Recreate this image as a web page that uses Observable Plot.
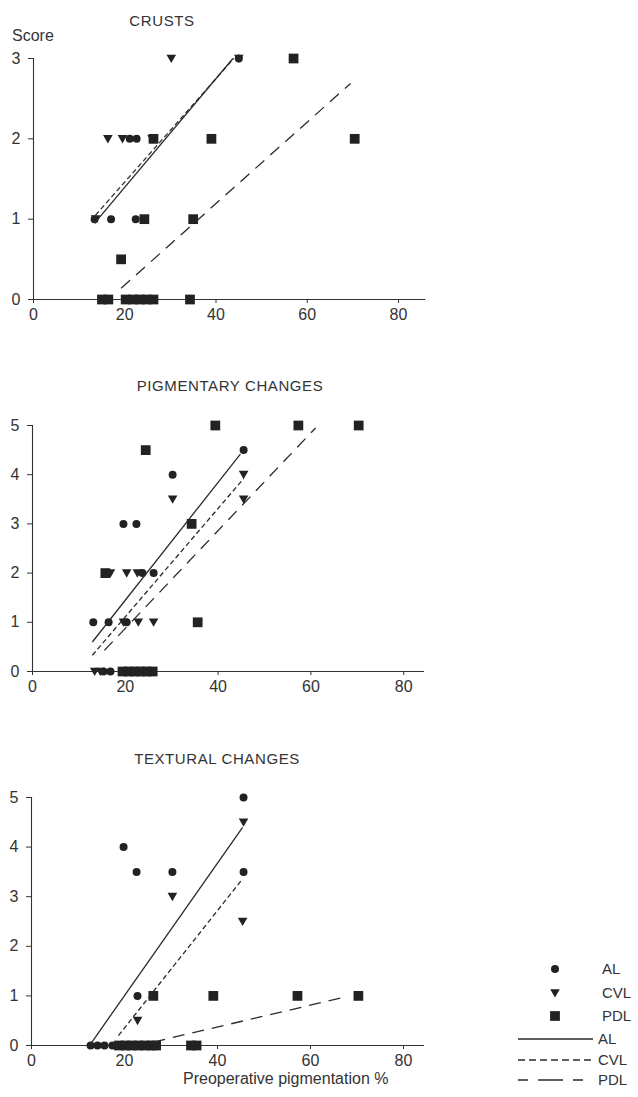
<!DOCTYPE html>
<html>
<head>
<meta charset="utf-8">
<script src="https://cdn.jsdelivr.net/npm/d3@7"></script>
<script src="https://cdn.jsdelivr.net/npm/@observablehq/plot@0.6"></script>
<style>
  html, body { margin: 0; padding: 0; background: #fff; }
  #page { position: relative; width: 638px; height: 1097px; overflow: hidden; background: #fff;
          font-family: "Liberation Sans", Arial, Helvetica, sans-serif; color: #333; }
  .abs { position: absolute; }
  .title { font-size: 15px; letter-spacing: 0.6px; white-space: nowrap; transform: translate(-50%, -50%); }
  .lab { font-size: 16px; white-space: nowrap; transform: translateY(-50%); }
</style>
</head>
<body>
<div id="page"></div>
<script>
// ---------- data ----------
const panelTitles = ["CRUSTS", "PIGMENTARY CHANGES", "TEXTURAL CHANGES"];
const xTicks = [0, 20, 40, 60, 80];
const yTicksCrusts = [0, 1, 2, 3];
const yTicksChanges = [0, 1, 2, 3, 4, 5];
const seriesNames = ["AL", "CVL", "PDL"];

// CRUSTS: [preoperative pigmentation %, score]
const crustsAL = [[13.4,1],[17.0,1],[22.4,1],[21.1,2],[22.6,2],[45,3],[15.5,0],[21,0]];
const crustsCVL = [[13.6,1],[16.3,2],[19.5,2],[26.0,2],[30.2,3],[45,3],[16.2,0],[20.5,0],[23.5,0]];
const crustsPDL = [[19.2,0.5],[24.3,1],[35.0,1],[26.3,2],[39.0,2],[70.4,2],[57.0,3],
                   [15.0,0],[16.4,0],[20.2,0],[21.8,0],[23.3,0],[24.8,0],[26.3,0],[34.3,0]];
const crustsFit = [
  {s: "AL",  x1: 13.4, y1: 0.95, x2: 43.7, y2: 3.0},
  {s: "CVL", x1: 13.6, y1: 1.05, x2: 43.9, y2: 3.0},
  {s: "PDL", x1: 19.2, y1: 0.14, x2: 69.5, y2: 2.69}
];

// PIGMENTARY CHANGES
const pigAL = [[13.1,1],[16.4,1],[20.3,1],[23.7,2],[26.1,2],[19.6,3],[22.4,3],[30.2,4],[45.5,4.5],[15.3,0],[16.8,0]];
const pigCVL = [[19.6,1],[22.8,1],[26.1,1],[16.8,2],[20.3,2],[22.6,2],[30.2,3.5],[45.5,4],[45.5,3.5],[13.4,0],[14.6,0]];
const pigPDL = [[15.7,2],[35.6,1],[34.3,3],[24.4,4.5],[39.4,5],[57.3,5],[70.3,5],
                [19.4,0],[20.7,0],[22.0,0],[23.3,0],[24.6,0],[25.9,0]];
const pigFit = [
  {s: "AL",  x1: 12.9, y1: 0.6,  x2: 44.8, y2: 4.42},
  {s: "CVL", x1: 12.9, y1: 0.33, x2: 45.5, y2: 3.92},
  {s: "PDL", x1: 15.5, y1: 0.43, x2: 61.0, y2: 4.95}
];

// TEXTURAL CHANGES
const texAL = [[45.6,5],[19.8,4],[22.6,3.5],[30.3,3.5],[45.6,3.5],[22.8,1],[12.7,0],[14.2,0],[15.7,0],[17.4,0]];
const texCVL = [[45.6,4.5],[30.3,3],[45.4,2.5],[22.8,0.5],[19.5,0],[21.5,0],[23.5,0]];
const texPDL = [[26.2,1],[39.1,1],[57.2,1],[70.3,1],
                [18.8,0],[20.2,0],[21.6,0],[23.0,0],[24.4,0],[25.8,0],[26.8,0],[34.3,0],[35.5,0]];
const texFit = [
  {s: "AL",  x1: 12.7, y1: 0.03, x2: 45.4, y2: 4.4},
  {s: "CVL", x1: 18.7, y1: 0.2,  x2: 45.4, y2: 3.36},
  {s: "PDL", x1: 26.2, y1: 0.07, x2: 68.0, y2: 0.99}
];
const xLabel = "Preoperative pigmentation %";
const yLabel = "Score";

// ---------- styling ----------
const INK = "#222";
const LINE = "#2a2a2a";
const dashes = {AL: null, CVL: "5,3", PDL: "12,8"};
const triDown = {
  draw(ctx, size) {
    const r = Math.sqrt(size / Math.PI);
    ctx.moveTo(-r * 1.0, -r * 0.8);
    ctx.lineTo(r * 1.0, -r * 0.8);
    ctx.lineTo(0, r * 0.95);
    ctx.closePath();
  }
};
const fmt = d3.format("d");

const page = document.getElementById("page");

function addDiv(cls, text, left, top) {
  const d = document.createElement("div");
  d.className = "abs " + cls;
  d.textContent = text;
  d.style.left = left + "px";
  d.style.top = top + "px";
  page.appendChild(d);
  return d;
}

function panel(cfg) {
  const W = 440;
  const xEnd = cfg.x0 + cfg.xmax * cfg.ppu;
  const marginTop = cfg.yTopPx - cfg.top;
  const marginBottom = cfg.height - (cfg.y0Px - cfg.top);
  const fitMarks = seriesNames.map(s =>
    Plot.link(cfg.fit.filter(d => d.s === s), {
      x1: "x1", y1: "y1", x2: "x2", y2: "y2",
      stroke: LINE, strokeWidth: 1.3, strokeDasharray: dashes[s]
    }));
  const chart = Plot.plot({
    width: W,
    height: cfg.height,
    marginLeft: cfg.x0,
    marginRight: W - xEnd,
    marginTop,
    marginBottom,
    x: {domain: [0, cfg.xmax]},
    y: {domain: [0, cfg.ymax]},
    style: {fontFamily: "'Liberation Sans', Arial, sans-serif", fontSize: "16px", color: "#333", background: "transparent", overflow: "visible"},
    marks: [
      Plot.ruleY([0], {stroke: "#333", strokeWidth: 1.1}),
      Plot.ruleX([0], {y1: 0, y2: cfg.ymax, stroke: "#333", strokeWidth: 1.1}),
      Plot.axisY({ticks: cfg.yTicks, tickFormat: fmt, tickSize: 5, tickPadding: 8, label: null, fontSize: 16}),
      Plot.axisX({ticks: xTicks, tickFormat: fmt, tickSize: 4, tickPadding: 5, label: null, fontSize: 16}),
      Plot.dot(cfg.pdl, {x: d => d[0], y: d => d[1], symbol: "square", r: 5.5, fill: INK, stroke: "none"}),
      Plot.dot(cfg.cvl, {x: d => d[0], y: d => d[1], symbol: triDown, r: 4.8, fill: INK, stroke: "none"}),
      Plot.dot(cfg.al, {x: d => d[0], y: d => d[1], r: 4, fill: INK, stroke: "none"}),
      ...fitMarks
    ]
  });
  chart.style.position = "absolute";
  chart.style.left = "0px";
  chart.style.top = cfg.top + "px";
  page.appendChild(chart);
}

panel({top: 40, height: 289, x0: 33, ppu: 4.5625, xmax: 86, y0Px: 299, yTopPx: 58, ymax: 3,
       yTicks: yTicksCrusts, al: crustsAL, cvl: crustsCVL, pdl: crustsPDL, fit: crustsFit});
panel({top: 400, height: 301, x0: 32, ppu: 4.64, xmax: 84.5, y0Px: 671, yTopPx: 425, ymax: 5,
       yTicks: yTicksChanges, al: pigAL, cvl: pigCVL, pdl: pigPDL, fit: pigFit});
panel({top: 780, height: 315, x0: 31, ppu: 4.65, xmax: 84.5, y0Px: 1045, yTopPx: 797, ymax: 5,
       yTicks: yTicksChanges, al: texAL, cvl: texCVL, pdl: texPDL, fit: texFit});

// titles and labels
addDiv("title", panelTitles[0], 162, 20);
addDiv("title", panelTitles[1], 230, 385);
addDiv("title", panelTitles[2], 217, 758);
addDiv("lab", yLabel, 12, 36);
addDiv("lab", xLabel, 183, 1079);

// legend
const legendItems = [
  {kind: "dot", s: "AL"}, {kind: "dot", s: "CVL"}, {kind: "dot", s: "PDL"},
  {kind: "line", s: "AL"}, {kind: "line", s: "CVL"}, {kind: "line", s: "PDL"}
];
const legendY = [19, 43, 66, 89, 110, 130];
const leg = d3.create("svg").attr("width", 138).attr("height", 147)
  .style("position", "absolute").style("left", "500px").style("top", "950px")
  .style("font-family", "'Liberation Sans', Arial, sans-serif").style("font-size", "15px");
const symFor = {AL: d3.symbolCircle, CVL: triDown, PDL: d3.symbolSquare};
const rFor = {AL: 4, CVL: 4.8, PDL: 5.5};
const legendDash = {AL: null, CVL: "7,4", PDL: "10,10,25,10,10,40"};
legendItems.forEach((it, i) => {
  const y = legendY[i];
  if (it.kind === "dot") {
    leg.append("path")
      .attr("transform", `translate(55,${y})`)
      .attr("d", d3.symbol(symFor[it.s], rFor[it.s] * rFor[it.s] * Math.PI)())
      .attr("fill", INK);
    leg.append("text").attr("x", 102).attr("y", y).attr("dy", "0.35em").attr("fill", "#333").text(it.s);
  } else {
    leg.append("line").attr("x1", 18).attr("x2", it.s === "PDL" ? 86 : 93).attr("y1", y).attr("y2", y)
      .attr("stroke", LINE).attr("stroke-width", 1.3)
      .attr("stroke-dasharray", legendDash[it.s]);
    leg.append("text").attr("x", 98).attr("y", y).attr("dy", "0.35em").attr("fill", "#333").text(it.s);
  }
});
page.appendChild(leg.node());
</script>
</body>
</html>
